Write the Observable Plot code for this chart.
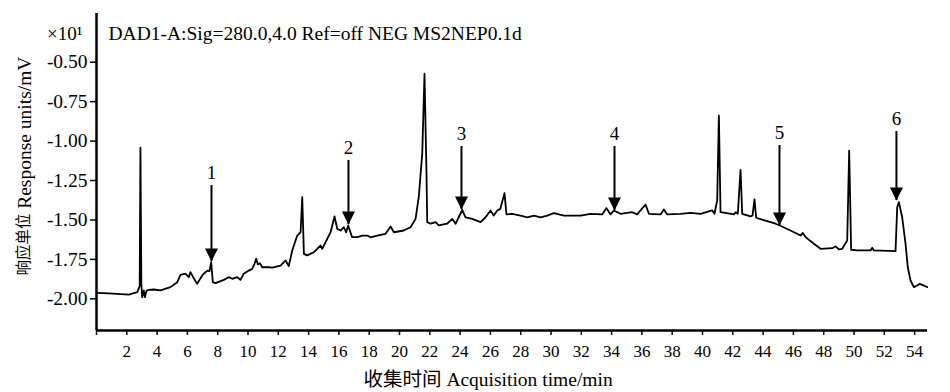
<!DOCTYPE html>
<html>
<head>
<meta charset="utf-8">
<script src="https://cdn.jsdelivr.net/npm/d3@7"></script>
<script src="https://cdn.jsdelivr.net/npm/@observablehq/plot@0.6"></script>
<style>
  html, body { margin: 0; padding: 0; background: #fff; }
  #chart svg { display: block; }
  #chart svg text { font-family: "Liberation Serif", "Times New Roman", "Noto Sans CJK SC", serif; }
  #chart svg text.cjk { font-family: "Noto Sans CJK SC", sans-serif; }
</style>
</head>
<body>
<div id="chart"></div>
<script>
// Acquisition time (min)
const times = [
  0, 0.8, 2.13, 2.69, 2.85, 2.90, 2.96, 3.01, 3.12, 3.19, 3.30, 3.45, 3.78, 4.22, 4.88,
  5.33, 5.54, 5.87, 6.09, 6.20, 6.38, 6.64, 6.98, 7.19, 7.35, 7.46, 7.57, 7.68, 7.86,
  8.40, 8.73, 8.96, 9.29, 9.50, 9.72, 10.05, 10.28, 10.43, 10.54, 10.65, 10.78, 10.94,
  11.37, 11.60, 12.15, 12.48, 12.69, 12.92, 13.25, 13.47, 13.58, 13.69, 13.90, 14.34,
  14.79, 14.90, 15.23, 15.45, 15.71, 15.89, 16.11, 16.32, 16.48, 16.61, 16.87, 17.21,
  17.54, 17.87, 18.09, 18.53, 19.08, 19.41, 19.63, 20.28, 20.51, 20.73, 21.06, 21.27,
  21.50, 21.65, 21.78, 21.83, 22.05, 22.38, 22.59, 23.14, 23.48, 23.70, 23.91, 24.14,
  24.36, 24.80, 25.35, 25.68, 26.01, 26.22, 26.45, 26.65, 26.93, 27.06, 27.44, 27.99,
  28.43, 28.87, 29.31, 29.75, 30.19, 30.85, 31.95, 32.61, 33.38, 33.66, 33.93, 34.15,
  34.59, 35.36, 35.68, 36.24, 36.46, 37.23, 37.45, 37.67, 38.55, 39.20, 39.87, 40.64,
  40.79, 40.97, 41.08, 41.19, 42.07, 42.20, 42.33, 42.51, 42.62, 43.17, 43.30, 43.43,
  43.54, 44.27, 44.82, 45.10, 45.81, 46.47, 46.62, 46.80, 47.35, 47.79, 48.56, 48.78,
  49.00, 49.22, 49.55, 49.68, 49.81, 50.21, 51.09, 51.20, 51.31, 52.74, 52.85, 52.96,
  53.18, 53.40, 53.55, 53.73, 53.95, 54.17, 54.34, 54.61, 54.83
];
// Response (x10 mV)
const values = [
  -1.962, -1.966, -1.973, -1.958, -1.920, -1.042, -1.900, -1.990, -1.947, -1.990, -1.950, -1.943, -1.941, -1.947, -1.926,
  -1.895, -1.848, -1.841, -1.863, -1.831, -1.863, -1.905, -1.852, -1.831, -1.821, -1.825, -1.768, -1.895, -1.901,
  -1.880, -1.863, -1.873, -1.863, -1.880, -1.841, -1.821, -1.810, -1.778, -1.746, -1.782, -1.774, -1.800,
  -1.800, -1.803, -1.789, -1.757, -1.793, -1.694, -1.599, -1.578, -1.356, -1.715, -1.725, -1.705,
  -1.662, -1.683, -1.620, -1.578, -1.478, -1.556, -1.567, -1.546, -1.578, -1.535, -1.609, -1.609,
  -1.599, -1.599, -1.610, -1.600, -1.588, -1.542, -1.578, -1.567, -1.556, -1.546, -1.493, -1.356,
  -1.081, -0.573, -1.200, -1.514, -1.524, -1.514, -1.535, -1.524, -1.493, -1.524, -1.483, -1.436,
  -1.483, -1.493, -1.514, -1.483, -1.440, -1.472, -1.440, -1.430, -1.330, -1.465, -1.461, -1.472,
  -1.483, -1.472, -1.483, -1.472, -1.457, -1.472, -1.472, -1.461, -1.465, -1.425, -1.465, -1.440,
  -1.461, -1.451, -1.465, -1.402, -1.461, -1.465, -1.434, -1.465, -1.461, -1.455, -1.461, -1.440,
  -1.461, -1.376, -0.838, -1.451, -1.465, -1.451, -1.461, -1.182, -1.461, -1.478, -1.472, -1.370,
  -1.486, -1.508, -1.524, -1.535, -1.567, -1.599, -1.582, -1.609, -1.651, -1.683, -1.679, -1.668,
  -1.687, -1.683, -1.630, -1.060, -1.689, -1.693, -1.693, -1.677, -1.693, -1.698, -1.419, -1.387,
  -1.483, -1.651, -1.800, -1.884, -1.926, -1.916, -1.905, -1.916, -1.926
];

// Marked peaks (arrows)
const peakTimes = [7.59, 16.63, 24.09, 34.19, 45.08, 52.80];
const peakTips = [-1.763, -1.529, -1.434, -1.440, -1.535, -1.377];
const peakTails = [-1.282, -1.123, -1.034, -1.034, -1.028, -0.939];
const peakLabels = ["1", "2", "3", "4", "5", "6"];

// Axes
const xTicks = [0, 2, 4, 6, 8, 10, 12, 14, 16, 18, 20, 22, 24, 26, 28, 30, 32, 34, 36, 38, 40, 42, 44, 46, 48, 50, 52, 54];
const yTicks = [-0.50, -0.75, -1.00, -1.25, -1.50, -1.75, -2.00];
const xDomain = [0, 54.85];
const yDomain = [-2.201, -0.191];

// Texts
const titleText = "DAD1-A:Sig=280.0,4.0 Ref=off NEG MS2NEP0.1d";
const scaleNote = "×10¹";
const yLabelCJK = "响应单位";
const yLabelLatin = "Response units/mV";
const xLabelText = "收集时间 Acquisition time/min";

const trace = times.map((t, i) => ({ t, v: values[i] }));
const peaks = peakTimes.map((t, i) => ({ t, tip: peakTips[i], tail: peakTails[i], label: peakLabels[i] }));

// Downward filled triangle with the apex at the data point
const downArrowHead = {
  draw(context, size) {
    const r = Math.sqrt(size / Math.PI);
    const hw = 1.3 * r, h = 2.6 * r;
    context.moveTo(0, 0);
    context.lineTo(-hw, -h);
    context.lineTo(hw, -h);
    context.closePath();
  }
};

const serif = "Liberation Serif, Times New Roman, Noto Sans CJK SC, serif";

const chart = Plot.plot({
  width: 950,
  height: 392,
  marginLeft: 96,
  marginRight: 23,
  marginTop: 13,
  marginBottom: 62,
  style: { fontFamily: serif, fontSize: "17px", color: "#000", background: "#fff" },
  x: { domain: xDomain },
  y: { domain: yDomain },
  marks: [
    Plot.axisX({
      ticks: xTicks,
      tickFormat: d => (d === 0 ? "" : String(d)),
      tickSize: 5,
      tickPadding: 9,
      fontSize: 17,
      fontFamily: serif,
      strokeWidth: 1.5,
      label: null
    }),
    Plot.axisY({
      ticks: yTicks,
      tickFormat: d => d.toFixed(2),
      tickSize: 6,
      tickPadding: 3,
      fontSize: 19.5,
      fontFamily: serif,
      strokeWidth: 1.5,
      label: null
    }),
    Plot.ruleX([xDomain[0]], { stroke: "#000", strokeWidth: 2.5 }),
    Plot.ruleY([yDomain[0]], { stroke: "#000", strokeWidth: 2.5 }),
    Plot.line(trace, { x: "t", y: "v", stroke: "#000", strokeWidth: 1.8, strokeLinejoin: "round" }),
    Plot.ruleX(peaks, { x: "t", y1: "tail", y2: "tip", stroke: "#000", strokeWidth: 2 }),
    Plot.dot(peaks, { x: "t", y: "tip", symbol: downArrowHead, r: 5, fill: "#000", stroke: "none" }),
    Plot.text(peaks, { x: "t", y: "tail", text: "label", dy: -13, fontSize: 19, fontFamily: serif, lineAnchor: "middle", fill: "#000" }),
    Plot.text([titleText], { frameAnchor: "top-left", text: d => d, dx: 12, dy: 20, textAnchor: "start", lineAnchor: "middle", fontSize: 19.5, fontFamily: serif, fill: "#000" }),
    Plot.text([scaleNote], { frameAnchor: "top-left", text: d => d, dx: -14, dy: 20, textAnchor: "end", lineAnchor: "middle", fontSize: 19, fontFamily: serif, fill: "#000" }),
    Plot.text([yLabelCJK], { frameAnchor: "left", text: d => d, dx: -72, dy: 103.5, rotate: -90, textAnchor: "start", lineAnchor: "middle", fontSize: 15.5, fontFamily: "Noto Sans CJK SC, sans-serif", fill: "#000", className: "cjk" }),
    Plot.text([yLabelLatin], { frameAnchor: "left", text: d => d, dx: -72, dy: 36.8, rotate: -90, textAnchor: "start", lineAnchor: "middle", fontSize: 19.5, fontFamily: serif, fill: "#000" }),
    Plot.text([xLabelText], { frameAnchor: "bottom-left", text: d => d, dx: 267, dy: 49, textAnchor: "start", lineAnchor: "middle", fontSize: 19.5, fontFamily: serif, fill: "#000" })
  ]
});

// CJK glyphs of the y label use the CJK face
chart.querySelectorAll("g.cjk text").forEach(t => t.classList.add("cjk"));

document.getElementById("chart").appendChild(chart);
</script>
</body>
</html>
